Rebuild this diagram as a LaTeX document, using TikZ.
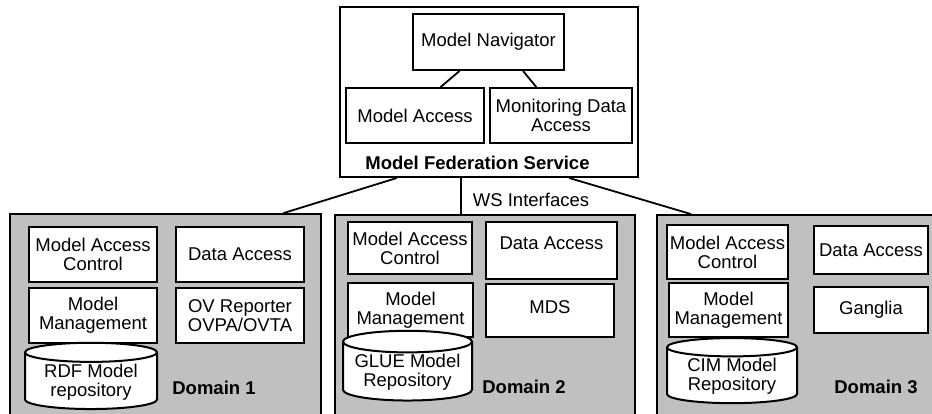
\documentclass[tikz,border=0pt]{standalone}
\usepackage{fontspec}
\setmainfont{Liberation Sans}
\usetikzlibrary{shapes.geometric}
\definecolor{domgray}{RGB}{192,192,192}
\tikzset{   block/.style = {rectangle, draw = black, line width = 2pt, fill = white, align = center, inner sep = 1pt, font = \fontsize{18.5}{19}\selectfont},
            domainbox/.style = {rectangle, draw = black, line width = 1.8pt, fill = domgray},
            repo/.style = {cylinder, shape border rotate = 90, aspect = 0.2, draw = black, line width = 2pt, fill = white, align = center, inner sep = 1pt, font = \fontsize{18.5}{19}\selectfont},
            boldlabel/.style = {font = \fontsize{18.5}{19}\selectfont\bfseries, inner sep = 0pt},
            textlabel/.style = {font = \fontsize{18.5}{19}\selectfont, inner sep = 0pt},
            link/.style = {draw = black, line width = 1.8pt}}

\begin{document}
\begin{tikzpicture}[x=1pt,y=-1pt]
    \useasboundingbox (0,0) rectangle (932,413);
    \node[block, minimum width=298pt, minimum height=170pt] (mfs) at (489,92) {};
    \node[block, minimum width=151pt, minimum height=56pt] (nav) at (488.5,42) {Model Navigator};
    \node[block, minimum width=138pt, minimum height=55pt] (ma) at (415,115.5) {Model Access};
    \node[block, minimum width=142pt, minimum height=55pt] (mda) at (561,115.5) {Monitoring Data\\Access};
    \node[boldlabel] (mfstitle) at (477.5,163) {Model Federation Service};
    \draw[link] (nav.-135) -- (ma.48);
    \draw[link] (nav.-40) -- (mda.131);

    \node[domainbox, minimum width=311pt, minimum height=226pt] (d1) at (165.5,327) {};
    \node[domainbox, minimum width=300pt, minimum height=225pt] (d2) at (485,327.5) {};
    \node[domainbox, minimum width=303pt, minimum height=225pt] (d3) at (808.5,327.5) {};

    \draw[link] (mfs.-137) -- (d1.44);
    \draw[link] (mfs.-108) -- (mfs.-108 |- d2.north);
    \draw[link] (mfs.-47) -- (d3.136);
    \node[textlabel] (ws) at (531,200) {WS Interfaces};

    \node[block, minimum width=128pt, minimum height=55pt] (mac1) at (93,254.5) {Model Access\\Control};
    \node[block, minimum width=128pt, minimum height=55pt] (da1) at (240,254.5) {Data Access};
    \node[block, minimum width=128pt, minimum height=55pt] (mm1) at (93,315.5) {Model\\Management};
    \node[block, minimum width=128pt, minimum height=55pt] (ov1) at (240,315.5) {OV Reporter\\OVPA/OVTA};
    \node[repo, minimum width=132pt, minimum height=60pt] (rdf) at (91,382) {RDF Model\\repository};
    \node[boldlabel] (dom1) at (214,388) {Domain 1};

    \node[block, minimum width=124pt, minimum height=52pt] (mac2) at (410,248) {Model Access\\Control};
    \node[block, minimum width=131pt, minimum height=57pt, text depth=14pt] (da2) at (551.5,250.5) {Data Access};
    \node[block, minimum width=125pt, minimum height=54pt] (mm2) at (410.5,310) {Model\\Management};
    \node[block, minimum width=128pt, minimum height=53pt, text depth=6pt] (mds) at (550,310.5) {MDS};
    \node[repo, minimum width=129pt, minimum height=59pt] (glue) at (407.5,372.5) {GLUE Model\\Repository};
    \node[boldlabel] (dom2) at (524,387) {Domain 2};

    \node[block, minimum width=121pt, minimum height=54pt] (mac3) at (727.5,252) {Model Access\\Control};
    \node[block, minimum width=114pt, minimum height=48pt] (da3) at (871,250) {Data Access};
    \node[block, minimum width=119pt, minimum height=54pt] (mm3) at (728.5,310) {Model\\Management};
    \node[block, minimum width=114pt, minimum height=46pt] (gang) at (871,310) {Ganglia};
    \node[repo, minimum width=130pt, minimum height=53pt] (cim) at (732,376.5) {CIM Model\\Repository};
    \node[boldlabel] (dom3) at (876,387) {Domain 3};
\end{tikzpicture}
\end{document}
